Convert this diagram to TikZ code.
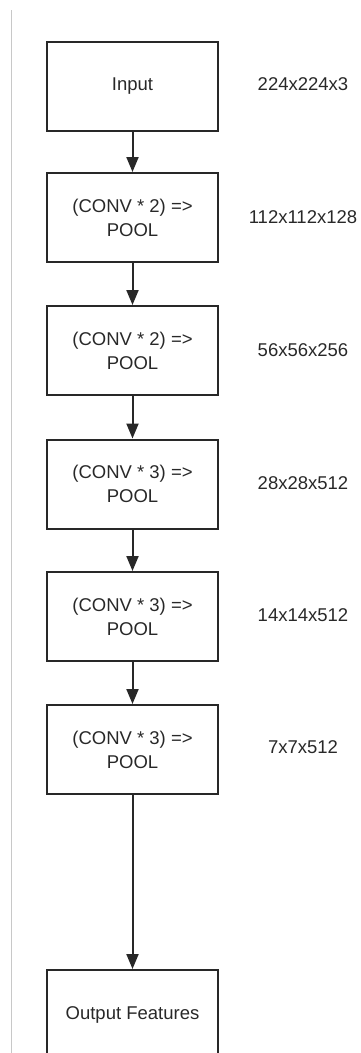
\documentclass[tikz,border=0pt]{standalone}
\usepackage{fontspec}
\setmainfont{Liberation Sans}
\usetikzlibrary{arrows.meta}
\definecolor{ink}{RGB}{40,40,40}
\definecolor{rule}{RGB}{200,200,200}
\begin{document}
\begin{tikzpicture}[x=1pt,y=-1pt,
  layerbox/.style={draw=ink, line width=2pt, rectangle, minimum width=171pt, minimum height=89pt,
    inner sep=0pt, align=center, text=ink, font=\fontsize{18.5}{24}\selectfont},
  dimlabel/.style={text=ink, font=\fontsize{18.5}{24}\selectfont, inner sep=0pt},
  flow/.style={draw=ink, line width=2pt, -{Triangle[width=12pt,length=15pt]}}]
\useasboundingbox (0,0) rectangle (360,1053);
\begin{scope}
\clip (0,0) rectangle (360,1053);
\coordinate (rtop) at (11,10);
\coordinate (rbot) at (11,1053);
\draw[rule, line width=1pt] (rtop) -- (rbot);

\node[layerbox] (b1) at (132.5,86.5) {Input};
\node[layerbox] (b2) at (132.5,217.5) {(CONV * 2) =>\\POOL};
\node[layerbox] (b3) at (132.5,350.5) {(CONV * 2) =>\\POOL};
\node[layerbox] (b4) at (132.5,484) {(CONV * 3) =>\\POOL};
\node[layerbox] (b5) at (132.5,616.5) {(CONV * 3) =>\\POOL};
\node[layerbox] (b6) at (132.5,749.5) {(CONV * 3) =>\\POOL};
\node[layerbox] (b7) at (132.5,1014.5) {Output Features};

\node[dimlabel] (l1) at (303,84) {224x224x3};
\node[dimlabel] (l2) at (303,217) {112x112x128};
\node[dimlabel] (l3) at (303,350) {56x56x256};
\node[dimlabel] (l4) at (303,483) {28x28x512};
\node[dimlabel] (l5) at (303,615) {14x14x512};
\node[dimlabel] (l6) at (303,747) {7x7x512};

\draw[flow] (b1.south) -- (b2.north);
\draw[flow] (b2.south) -- (b3.north);
\draw[flow] (b3.south) -- (b4.north);
\draw[flow] (b4.south) -- (b5.north);
\draw[flow] (b5.south) -- (b6.north);
\draw[flow] (b6.south) -- (b7.north);
\end{scope}
\end{tikzpicture}
\end{document}
